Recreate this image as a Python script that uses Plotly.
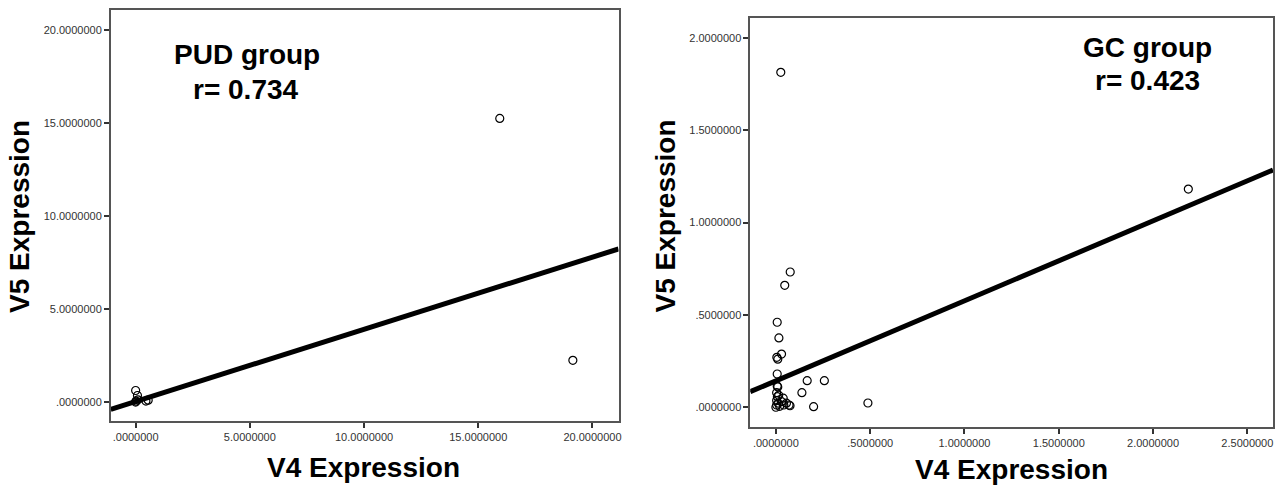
import plotly.graph_objects as go

# ---- PUD group data ----
pud_v4 = [0.00, 0.08, 0.02, 0.00, 0.10, 0.45, 0.55, 15.94, 19.14]
pud_v5 = [0.62, 0.35, 0.05, 0.00, 0.12, 0.05, 0.10, 15.25, 2.24]
pud_slope = 0.388
pud_intercept = 0.03
pud_xrange = [-1.09, 21.14]
pud_yrange = [-1.02, 21.08]
pud_ticks = [0, 5, 10, 15, 20]
pud_ticklabels = [".0000000", "5.0000000", "10.0000000", "15.0000000", "20.0000000"]

# ---- GC group data ----
gc_v4 = [0.076, 0.047, 0.007, 0.016, 0.030, 0.005, 0.010, 0.007, 0.010,
         0.166, 0.257, 0.138, 0.200, 0.488, 0.026, 2.187,
         0.007, 0.004, 0.008, 0.004, 0.012, 0.004, 0.030, 0.042, 0.070,
         0.056, 0.020, 0.039, 0.000, 0.015, 0.075]
gc_v5 = [0.732, 0.660, 0.460, 0.375, 0.288, 0.270, 0.260, 0.180, 0.110,
         0.144, 0.144, 0.079, 0.003, 0.023, 1.813, 1.181,
         0.115, 0.079, 0.057, 0.036, 0.022, 0.012, 0.030, 0.012, 0.012,
         0.022, 0.005, 0.049, 0.000, 0.065, 0.008]
gc_slope = 0.433
gc_intercept = 0.143
gc_xrange = [-0.136, 2.636]
gc_yrange = [-0.107, 2.107]
gc_xticks = [0, 0.5, 1.0, 1.5, 2.0, 2.5]
gc_xticklabels = [".0000000", ".5000000", "1.0000000", "1.5000000", "2.0000000", "2.5000000"]
gc_yticks = [0, 0.5, 1.0, 1.5, 2.0]
gc_yticklabels = [".0000000", ".5000000", "1.0000000", "1.5000000", "2.0000000"]

W, H = 1279, 486
FONT = "Liberation Sans, Arial, sans-serif"


def px(x):
    return x / W


def py(y):
    return 1 - y / H


fig = go.Figure()

marker = dict(symbol="circle-open", size=8, color="black", line=dict(width=1.2, color="#222"))

fig.add_trace(go.Scatter(x=pud_v4, y=pud_v5, mode="markers", marker=marker,
                         xaxis="x", yaxis="y", showlegend=False))
fig.add_trace(go.Scatter(x=pud_xrange,
                         y=[pud_intercept + pud_slope * v for v in pud_xrange],
                         mode="lines", line=dict(color="black", width=5),
                         xaxis="x", yaxis="y", showlegend=False))

fig.add_trace(go.Scatter(x=gc_v4, y=gc_v5, mode="markers", marker=marker,
                         xaxis="x2", yaxis="y2", showlegend=False))
fig.add_trace(go.Scatter(x=gc_xrange,
                         y=[gc_intercept + gc_slope * v for v in gc_xrange],
                         mode="lines", line=dict(color="black", width=5),
                         xaxis="x2", yaxis="y2", showlegend=False))

axis_common = dict(showgrid=False, zeroline=False, showline=True, mirror=True,
                   linecolor="#555", linewidth=1.5, ticks="outside", ticklen=5,
                   tickcolor="#333", tickwidth=1.5,
                   tickfont=dict(family=FONT, size=11, color="#333"))

fig.update_layout(
    width=W, height=H,
    margin=dict(l=0, r=0, t=0, b=0),
    plot_bgcolor="white", paper_bgcolor="white",
    xaxis=dict(domain=[px(111), px(620)], range=pud_xrange, anchor="y",
               tickvals=pud_ticks, ticktext=pud_ticklabels, **axis_common),
    yaxis=dict(domain=[py(421), py(10)], range=pud_yrange, anchor="x",
               tickvals=pud_ticks, ticktext=pud_ticklabels, **axis_common),
    xaxis2=dict(domain=[px(752), px(1276)], range=gc_xrange, anchor="y2",
                tickvals=gc_xticks, ticktext=gc_xticklabels, **axis_common),
    yaxis2=dict(domain=[py(427), py(18)], range=gc_yrange, anchor="x2",
                tickvals=gc_yticks, ticktext=gc_yticklabels, **axis_common),
)

title_font = dict(family=FONT, size=28, color="black")
# axis titles
fig.add_annotation(text="<b>V4 Expression</b>", x=px(364), y=py(467), xref="paper", yref="paper",
                   showarrow=False, font=title_font, xanchor="center", yanchor="middle")
fig.add_annotation(text="<b>V4 Expression</b>", x=px(1014), y=py(469), xref="paper", yref="paper",
                   showarrow=False, font=title_font, xanchor="center", yanchor="middle")
fig.add_annotation(text="<b>V5 Expression</b>", x=px(19), y=py(216), xref="paper", yref="paper",
                   showarrow=False, font=title_font, xanchor="center", yanchor="middle",
                   textangle=-90)
fig.add_annotation(text="<b>V5 Expression</b>", x=px(667), y=py(216), xref="paper", yref="paper",
                   showarrow=False, font=title_font, xanchor="center", yanchor="middle",
                   textangle=-90)

ann_font = dict(family=FONT, size=28, color="black")
fig.add_annotation(text="<b>PUD group</b>", x=px(248), y=py(55), xref="paper", yref="paper",
                   showarrow=False, font=ann_font, xanchor="center", yanchor="middle")
fig.add_annotation(text="<b>r= 0.734</b>", x=px(247), y=py(90), xref="paper", yref="paper",
                   showarrow=False, font=ann_font, xanchor="center", yanchor="middle")
fig.add_annotation(text="<b>GC group</b>", x=px(1150), y=py(47), xref="paper", yref="paper",
                   showarrow=False, font=ann_font, xanchor="center", yanchor="middle")
fig.add_annotation(text="<b>r= 0.423</b>", x=px(1150), y=py(80), xref="paper", yref="paper",
                   showarrow=False, font=ann_font, xanchor="center", yanchor="middle")

fig.write_html("out.html",
               config={"displayModeBar": False},
               post_script="document.body.style.margin='0';document.body.style.overflow='hidden';")
